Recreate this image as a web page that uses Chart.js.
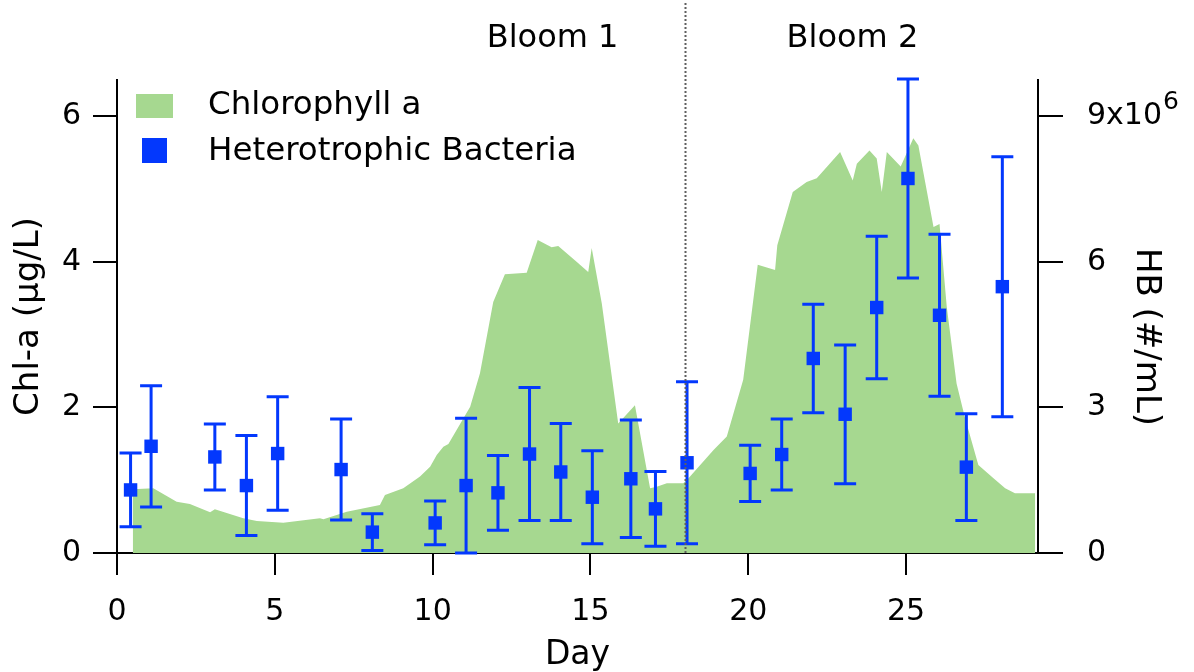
<!DOCTYPE html>
<html>
<head>
<meta charset="utf-8">
<script src="https://cdn.jsdelivr.net/npm/chart.js@4.4.1/dist/chart.umd.min.js"></script>
<style>
  html, body { margin: 0; padding: 0; background: #fff; }
  canvas { display: block; }
</style>
</head>
<body>
<canvas id="chart" width="1194" height="672"></canvas>
<script>
// Chlorophyll a concentration (µg/L) along the sampling period (days)
const chlDays = [0.5, 0.5, 1.15, 1.89, 2.31, 2.95, 3.1, 4.0, 4.43, 5.27, 6.43, 6.54, 7.28, 8.33, 8.49, 9.07,
  9.6, 9.92, 10.13, 10.34, 10.5, 11.19, 11.5, 11.92, 12.29, 12.98, 13.33, 13.77, 13.98, 14.57, 14.93, 15.04,
  15.36, 15.88, 16.41, 16.89, 17.1, 17.42, 17.94, 18.05, 18.9, 19.32, 19.84, 20.3, 20.85, 20.92, 21.41, 21.85,
  22.17, 22.91, 23.31, 23.44, 23.84, 24.07, 24.23, 24.39, 24.83, 25.23, 25.39, 25.87, 26.06, 26.29, 26.6,
  26.86, 27.29, 27.77, 28.14, 28.45, 29.09, 29.09];
const chlValues = [0, 0.875, 0.89, 0.705, 0.673, 0.559, 0.6, 0.476, 0.44, 0.416, 0.476, 0.463, 0.567, 0.66, 0.797, 0.889,
  1.05, 1.185, 1.346, 1.46, 1.497, 2.01, 2.47, 3.45, 3.83, 3.85, 4.30, 4.2, 4.22, 4.0, 3.86, 4.19,
  3.43, 1.78, 2.03, 0.889, 0.91, 0.957, 0.957, 1.0, 1.415, 1.6, 2.38, 3.96, 3.89, 4.23, 4.96, 5.1,
  5.15, 5.51, 5.12, 5.35, 5.53, 5.42, 4.96, 5.51, 5.31, 5.70, 5.60, 4.48, 4.52, 3.38, 2.33,
  1.87, 1.21, 1.026, 0.889, 0.82, 0.82, 0];

// Heterotrophic bacteria (10^6 cells/mL), mean and ± error
const hbDays = [0.43, 1.08, 3.1, 4.1, 5.09, 7.1, 8.09, 10.08, 11.06, 12.07, 13.07, 14.06, 15.06, 16.28, 17.06,
  18.06, 20.06, 21.06, 22.06, 23.07, 24.07, 25.06, 26.06, 26.91, 28.05];
const hbValues = [1.30, 2.20, 1.98, 1.39, 2.05, 1.72, 0.43, 0.62, 1.39, 1.24, 2.04, 1.67, 1.15, 1.53, 0.91,
  1.86, 1.64, 2.03, 4.01, 2.86, 5.06, 7.72, 4.90, 1.77, 5.49];
const hbErrors = [0.76, 1.25, 0.68, 1.03, 1.17, 1.04, 0.38, 0.45, 1.39, 0.77, 1.37, 1.0, 0.96, 1.21, 0.77,
  1.67, 0.58, 0.73, 1.12, 1.43, 1.47, 2.05, 1.67, 1.1, 2.68];

// Axis ticks
const dayTicks = [0, 5, 10, 15, 20, 25];
const chlTicks = [0, 2, 4, 6];
const hbTicks = [0, 3e6, 6e6, 9e6];

// Bloom annotations
const bloomLabels = ['Bloom 1', 'Bloom 2'];
const bloomCenters = [13.8, 23.3];
const bloomSplitDay = 18;

const GREEN = '#a6d890';
const BLUE = '#0338fd';
const FONT = "'DejaVu Sans', sans-serif";
const TICK_SIZE = 30;
const HB_TICK_LEN = 25;
const HB_TICK_PAD = 24;

Chart.defaults.font.family = FONT;
Chart.defaults.color = '#000';

const fixedTicks = list => scale => { scale.ticks = list.map(v => ({ value: v })); };

const errorBars = {
  id: 'errorBars',
  beforeDatasetDraw(chart, args) {
    if (args.index !== 1) return;
    const { ctx, scales: { x, y2 } } = chart;
    ctx.save();
    ctx.strokeStyle = BLUE;
    ctx.lineWidth = 3;
    hbDays.forEach((d, i) => {
      const px = x.getPixelForValue(d);
      const top = y2.getPixelForValue((hbValues[i] + hbErrors[i]) * 1e6);
      const bot = y2.getPixelForValue(Math.max(0, hbValues[i] - hbErrors[i]) * 1e6);
      ctx.beginPath();
      ctx.moveTo(px, top); ctx.lineTo(px, bot);
      ctx.moveTo(px - 11, top); ctx.lineTo(px + 11, top);
      ctx.moveTo(px - 11, bot); ctx.lineTo(px + 11, bot);
      ctx.stroke();
    });
    ctx.restore();
  }
};

const annotations = {
  id: 'annotations',
  afterDatasetsDraw(chart) {
    const { ctx, chartArea, scales: { x } } = chart;
    ctx.save();
    // bloom separator
    const sx = Math.round(x.getPixelForValue(bloomSplitDay)) + 0.5;
    ctx.strokeStyle = '#5f5f5f';
    ctx.lineWidth = 2;
    ctx.setLineDash([2, 2]);
    ctx.beginPath();
    ctx.moveTo(sx, 3);
    ctx.lineTo(sx, chartArea.bottom);
    ctx.stroke();
    ctx.setLineDash([]);

    // bloom labels
    ctx.fillStyle = '#000';
    ctx.font = '32px ' + FONT;
    ctx.textAlign = 'center';
    ctx.textBaseline = 'middle';
    bloomLabels.forEach((t, i) => ctx.fillText(t, x.getPixelForValue(bloomCenters[i]), 39));

    // legend
    const lx = chartArea.left;
    ctx.fillStyle = GREEN;
    ctx.fillRect(lx + 19, 94, 37, 24);
    ctx.fillStyle = BLUE;
    ctx.fillRect(lx + 25, 138, 25, 25);
    ctx.fillStyle = '#000';
    ctx.textAlign = 'left';
    ctx.font = '32.5px ' + FONT;
    ctx.fillText('Chlorophyll a', lx + 91, 106);
    ctx.fillText('Heterotrophic Bacteria', lx + 91, 152);
    ctx.restore();
  },
  afterDraw(chart) {
    const { ctx, scales: { y2 } } = chart;
    ctx.save();
    ctx.fillStyle = '#000';
    // exponent of the top HB tick label
    ctx.font = TICK_SIZE + 'px ' + FONT;
    const base = '9x10';
    const lx = y2.left + HB_TICK_LEN + HB_TICK_PAD;
    const ty = y2.getPixelForValue(9e6);
    const w = ctx.measureText(base).width;
    ctx.font = '25px ' + FONT;
    ctx.textAlign = 'left';
    ctx.textBaseline = 'middle';
    ctx.fillText('6', lx + w + 1, ty - 14);
    // right axis title, reading downward
    ctx.font = '34px ' + FONT;
    ctx.textAlign = 'center';
    ctx.translate(1146, 337);
    ctx.rotate(Math.PI / 2);
    ctx.fillText('HB (#/mL)', 0, 0);
    ctx.restore();
  }
};

const axisBase = {
  border: { display: true, color: '#000', width: 2 },
  grid: { drawOnChartArea: false, drawTicks: true, color: '#000', lineWidth: 2 }
};

new Chart(document.getElementById('chart'), {
  data: {
    datasets: [
      {
        type: 'line',
        label: 'Chlorophyll a',
        data: chlDays.map((d, i) => ({ x: d, y: chlValues[i] })),
        yAxisID: 'y',
        backgroundColor: GREEN,
        borderWidth: 0,
        pointRadius: 0,
        fill: 'origin',
        tension: 0,
        order: 2
      },
      {
        type: 'scatter',
        label: 'Heterotrophic Bacteria',
        data: hbDays.map((d, i) => ({ x: d, y: hbValues[i] * 1e6 })),
        yAxisID: 'y2',
        pointStyle: 'rect',
        pointRadius: 9.5,
        pointBackgroundColor: BLUE,
        pointBorderColor: BLUE,
        pointBorderWidth: 0,
        clip: false,
        order: 1
      }
    ]
  },
  options: {
    responsive: false,
    animation: false,
    devicePixelRatio: 1,
    layout: { padding: { top: 80, left: 0, right: 0, bottom: 0 } },
    plugins: { legend: { display: false }, tooltip: { enabled: false } },
    scales: {
      x: {
        type: 'linear',
        min: 0,
        max: 29.18,
        ...axisBase,
        grid: { ...axisBase.grid, tickLength: 22 },
        afterBuildTicks: fixedTicks(dayTicks),
        afterFit: s => { s.height = 119; },
        ticks: { font: { size: TICK_SIZE }, padding: 19, maxRotation: 0, autoSkip: false },
        title: { display: true, text: 'Day', font: { size: 33 }, padding: { top: 0, bottom: -3 } }
      },
      y: {
        type: 'linear',
        position: 'left',
        min: 0,
        max: 6.5,
        ...axisBase,
        grid: { ...axisBase.grid, tickLength: 24 },
        afterBuildTicks: fixedTicks(chlTicks),
        afterFit: s => { s.width = 117; },
        ticks: { font: { size: TICK_SIZE }, padding: 12 },
        title: { display: true, text: 'Chl-a (µg/L)', font: { size: 34 }, padding: { top: 9, bottom: 0 } }
      },
      y2: {
        type: 'linear',
        position: 'right',
        min: 0,
        max: 9.75e6,
        ...axisBase,
        grid: { ...axisBase.grid, tickLength: HB_TICK_LEN },
        afterBuildTicks: fixedTicks(hbTicks),
        afterFit: s => { s.width = 156; },
        ticks: {
          font: { size: TICK_SIZE },
          padding: HB_TICK_PAD,
          callback: v => (v === 9e6 ? '9x10' : String(Math.round(v / 1e6)))
        }
      }
    }
  },
  plugins: [errorBars, annotations]
});
</script>
</body>
</html>
